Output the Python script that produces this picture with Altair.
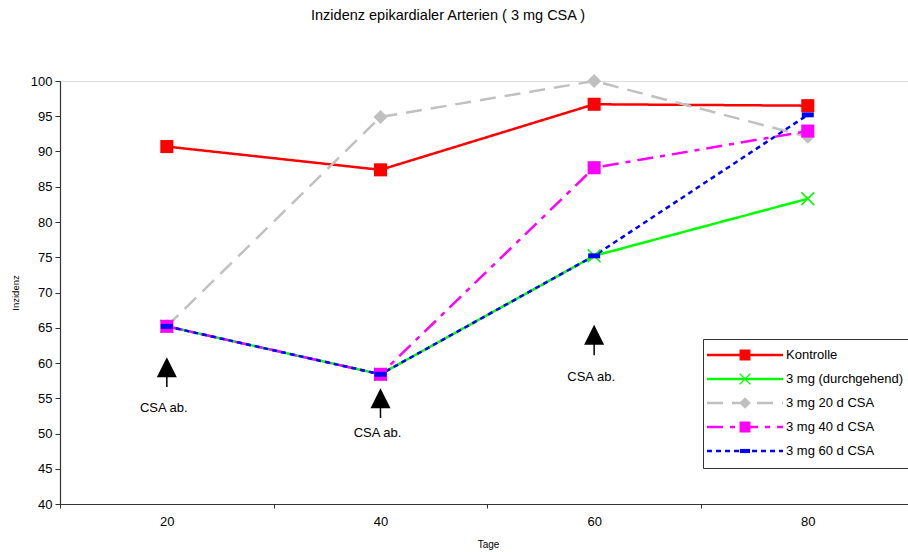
import altair as alt
import pandas as pd

FONT = "Liberation Sans"

# ---- data ----
days = [20, 40, 60, 80]
series_names = ["Kontrolle", "3 mg (durchgehend)", "3 mg 20 d CSA", "3 mg 40 d CSA", "3 mg 60 d CSA"]
kontrolle = [90.7, 87.4, 96.7, 96.5]
durchgehend = [65.2, 58.4, 75.2, 83.3]
csa20 = [65.2, 94.9, 100.0, 92.1]
csa40 = [65.2, 58.4, 87.7, 92.9]
csa60 = [65.2, 58.4, 75.2, 95.2]
values = [kontrolle, durchgehend, csa20, csa40, csa60]

colors = ["#FF0000", "#00FF00", "#C0C0C0", "#FF00FF", "#0000FF"]
dashes = [[1, 0], [1, 0], [16, 9], [16, 7, 5, 7], [5, 4]]
markers = [
    "M-0.87,-0.87L0.87,-0.87L0.87,0.87L-0.87,0.87Z",
    "M-0.93,-0.78L-0.78,-0.93L0,-0.15L0.78,-0.93L0.93,-0.78L0.15,0L0.93,0.78L0.78,0.93L0,0.15L-0.78,0.93L-0.93,0.78L-0.15,0Z",
    "M0,-0.93L0.93,0L0,0.93L-0.93,0Z",
    "M-0.87,-0.87L0.87,-0.87L0.87,0.87L-0.87,0.87Z",
    "M-0.8,-0.33L0.8,-0.33L0.8,0.33L-0.8,0.33Z",
]
# separate key for the marker legend (kept distinct so it is not merged)
marker_keys = [n + " " for n in series_names]

# annotations "CSA ab."
arrow_x = [20, 40, 60]
arrow_head_y = [59.4, 55.0, 64.0]
arrow_stem_end = [56.6, 52.2, 61.1]
arrow_label_y = [53.6, 50.1, 58.0]
arrow_label = ["CSA ab.", "CSA ab.", "CSA ab."]

rows = []
for name, key, vals in zip(series_names, marker_keys, values):
    for d, v in zip(days, vals):
        rows.append({"Tage": d, "Wert": v, "Serie": name, "Marker": key})
df = pd.DataFrame(rows)

ann = pd.DataFrame({
    "x": arrow_x, "head": arrow_head_y, "stem": arrow_stem_end,
    "ly": arrow_label_y, "txt": arrow_label,
})

xscale = alt.Scale(domain=[10, 89.38], nice=False, zero=False)
yscale = alt.Scale(domain=[40, 100], nice=False, zero=False)

xaxis = alt.Axis(
    values=[10, 20, 30, 40, 50, 60, 70, 80],
    labelExpr="datum.value % 20 == 0 ? datum.label : ''",
    tickOpacity={"condition": {"test": "datum.value % 20 == 0", "value": 0}, "value": 1},
    title="Tage", titleFontSize=10, titleFont=FONT, titleFontWeight="normal", titleColor="black",
    titleX=428, titleY=40, titleBaseline="middle",
    domainColor="#333333", tickColor="#333333", tickSize=4, domainWidth=1.2,
    labelFontSize=13, labelFont=FONT, labelColor="black", labelPadding=7,
    grid=False, labelFlush=False, labelOverlap=False,
)
yaxis = alt.Axis(
    values=list(range(40, 101, 5)),
    title="Inzidenz", titleFontSize=9.5, titleFont=FONT, titleFontWeight="normal", titleColor="black",
    titleX=-45, titleY=211.5, titleBaseline="middle",
    domainColor="#333333", tickColor="#333333", tickSize=5, domainWidth=1.2,
    labelFontSize=13, labelFont=FONT, labelColor="black", labelPadding=3,
    grid=False, labelOverlap=False,
)

legA = alt.Legend(
    title=None, orient="none", legendX=643, legendY=258,
    symbolType="M-2.4,0L12.8,0", symbolSize=100, symbolStrokeWidth=2.5,
    labelOffset=60.5, padding=9.5, rowPadding=10,
    strokeColor="#333333", labelFontSize=13, labelFont=FONT, labelColor="black", labelLimit=300,
)
legB = alt.Legend(
    title=None, orient="none", legendX=669, legendY=258,
    symbolSize=159, symbolStrokeWidth=0,
    labelOffset=60.5, padding=9.5, rowPadding=10, labelExpr="''",
    labelFontSize=13, labelFont=FONT, labelLimit=300,
)

X = alt.X("Tage:Q", scale=xscale, axis=xaxis)
Y = alt.Y("Wert:Q", scale=yscale, axis=yaxis)

lines = alt.Chart(df).mark_line(strokeWidth=2.5).encode(
    x=X, y=Y,
    color=alt.Color("Serie:N", scale=alt.Scale(domain=series_names, range=colors), legend=legA),
    strokeDash=alt.StrokeDash("Serie:N", scale=alt.Scale(domain=series_names, range=dashes), legend=legA),
)

points = alt.Chart(df).mark_point(filled=True, size=225, opacity=1).encode(
    x=X, y=Y,
    shape=alt.Shape("Marker:N", scale=alt.Scale(domain=marker_keys, range=markers), legend=legB),
    fill=alt.Fill("Marker:N", scale=alt.Scale(domain=marker_keys, range=colors), legend=legB),
)

AX = alt.X("x:Q", scale=xscale, axis=xaxis)
stems = alt.Chart(ann).mark_rule(color="black", strokeWidth=1.5).encode(
    x=AX,
    y=alt.Y("head:Q", scale=yscale, axis=yaxis),
    y2="stem:Q",
)
heads = alt.Chart(ann).mark_point(
    shape="M0,-1L1,1L-1,1Z", size=400, filled=True, color="black", opacity=1
).encode(
    x=AX,
    y=alt.Y("head:Q", scale=yscale, axis=yaxis),
)
labels = alt.Chart(ann).mark_text(
    fontSize=13, font=FONT, color="black", align="center", baseline="middle", dx=-3
).encode(
    x=AX,
    y=alt.Y("ly:Q", scale=yscale, axis=yaxis),
    text="txt:N",
)

chart = alt.layer(lines, points, stems, heads, labels).properties(
    width=848, height=423,
    title=alt.TitleParams(
        "Inzidenz epikardialer Arterien ( 3 mg CSA )",
        fontSize=14.5, font=FONT, fontWeight="normal", color="black",
        offset=51, dx=-36, anchor="middle",
    ),
    autosize="none",
    padding={"left": 60, "top": 81, "right": 0, "bottom": 48},
).configure_view(stroke=None).configure(background="white")

chart.save("out.html", embed_options={"renderer": "svg", "actions": False})
